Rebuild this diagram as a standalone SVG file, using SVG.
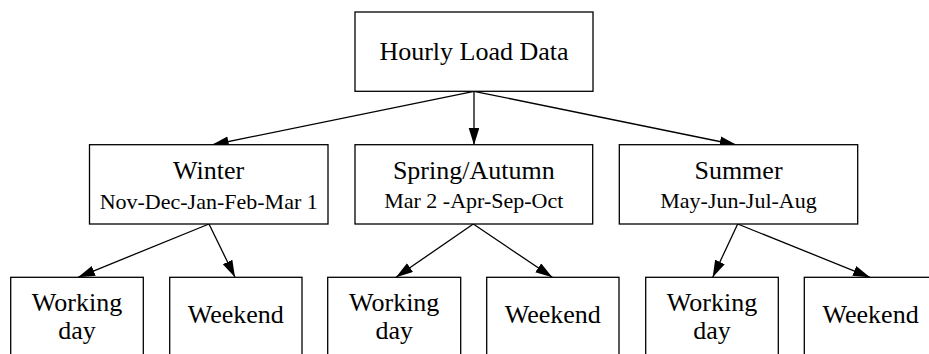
<svg xmlns="http://www.w3.org/2000/svg" width="929" height="354" viewBox="0 0 929 354" font-family="'Liberation Serif', 'Times New Roman', serif">
<style>
rect{fill:#fff;stroke:#000;stroke-width:1.3}
text{font-family:'Liberation Serif','Times New Roman',serif;fill:#000;text-anchor:middle}
.b{font-size:26px}
.s{font-size:22px}
#edges line{stroke:#000;stroke-width:1.3;marker-end:url(#ah)}
</style>
<defs>
<marker id="ah" markerUnits="userSpaceOnUse" markerWidth="17" markerHeight="11" refX="17" refY="5.3" orient="auto">
<path d="M0,0 L17,5.3 L0,10.6 z" fill="#000"/>
</marker>
</defs>
<rect width="929" height="354" style="fill:#fff;stroke:none"/>
<g id="edges">
<line x1="474" y1="91.3" x2="211.7" y2="145"/>
<line x1="474" y1="91.3" x2="474" y2="145"/>
<line x1="474" y1="91.3" x2="736.7" y2="145"/>
<line x1="209" y1="224" x2="78" y2="277.3"/>
<line x1="209" y1="224" x2="235" y2="277.3"/>
<line x1="473.3" y1="224" x2="396" y2="277.3"/>
<line x1="473.3" y1="224" x2="552.3" y2="277.3"/>
<line x1="737.7" y1="224" x2="712.7" y2="277.3"/>
<line x1="737.7" y1="224" x2="870" y2="277.3"/>
</g>
<g id="hourly">
<rect x="355" y="12" width="238" height="79.3"/>
<text class="b" x="474" y="60">Hourly Load Data</text>
</g>
<g id="winter">
<rect x="89.5" y="144.7" width="238.5" height="79.3"/>
<text class="b" x="208.7" y="179.3">Winter</text>
<text class="s" x="208.7" y="208.5">Nov-Dec-Jan-Feb-Mar 1</text>
</g>
<g id="spring">
<rect x="355" y="144.7" width="237.7" height="79.3"/>
<text class="b" x="473.8" y="179.3">Spring/Autumn</text>
<text class="s" x="473.8" y="208">Mar 2 -Apr-Sep-Oct</text>
</g>
<g id="summer">
<rect x="619.3" y="144.7" width="238.4" height="79.3"/>
<text class="b" x="738.5" y="179.3">Summer</text>
<text class="s" x="738.5" y="208">May-Jun-Jul-Aug</text>
</g>
<g id="working1">
<rect x="10.7" y="277.3" width="132.6" height="80"/>
<text class="b" x="77" y="310.7">Working</text>
<text class="b" x="77" y="339.3">day</text>
</g>
<g id="weekend1">
<rect x="169.7" y="277.3" width="132.3" height="80"/>
<text class="b" x="235.8" y="323.3">Weekend</text>
</g>
<g id="working2">
<rect x="327.7" y="277.3" width="133" height="80"/>
<text class="b" x="394.2" y="310.7">Working</text>
<text class="b" x="394.2" y="339.3">day</text>
</g>
<g id="weekend2">
<rect x="486.7" y="277.3" width="132.3" height="80"/>
<text class="b" x="552.8" y="323.3">Weekend</text>
</g>
<g id="working3">
<rect x="645.7" y="277.3" width="132.6" height="80"/>
<text class="b" x="712" y="310.7">Working</text>
<text class="b" x="712" y="339.3">day</text>
</g>
<g id="weekend3">
<rect x="804.3" y="277.3" width="132.7" height="80"/>
<text class="b" x="870.6" y="323.3">Weekend</text>
</g>
</svg>
